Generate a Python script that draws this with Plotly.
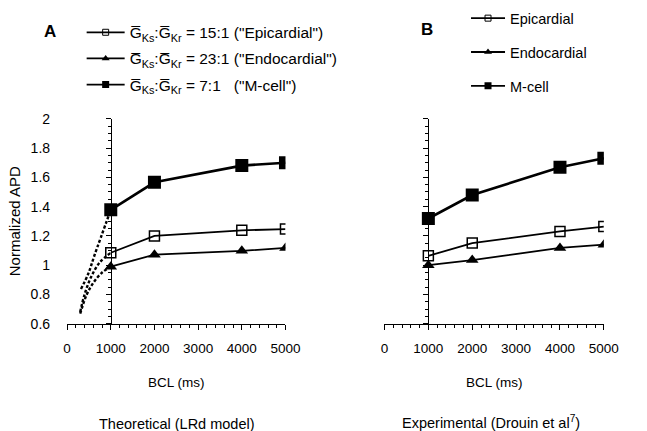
import plotly.graph_objects as go

# ---------------- data ----------------
bcl = [1000, 2000, 4000, 5000]

theo_epi = [1.085, 1.200, 1.238, 1.247]
theo_endo = [0.990, 1.072, 1.098, 1.118]
theo_m = [1.378, 1.566, 1.680, 1.700]

exp_epi = [1.064, 1.151, 1.231, 1.264]
exp_endo = [1.000, 1.035, 1.118, 1.140]
exp_m = [1.319, 1.479, 1.669, 1.730]

# fast-rate (dotted) theoretical curves
fast_bcl_m = [318, 482, 630, 1000]
fast_m = [0.838, 0.940, 1.070, 1.378]
fast_bcl_epi = [300, 400, 550, 750, 1000]
fast_epi = [0.680, 0.800, 0.920, 1.020, 1.085]
fast_bcl_endo = [300, 450, 600, 800, 1000]
fast_endo = [0.670, 0.800, 0.880, 0.950, 0.990]

legend_a = ["G\u0305<sub>Ks</sub>:G\u0305<sub>Kr</sub> = 15:1 (\"Epicardial\")",
            "G\u0305<sub>Ks</sub>:G\u0305<sub>Kr</sub> = 23:1 (\"Endocardial\")",
            "G\u0305<sub>Ks</sub>:G\u0305<sub>Kr</sub> = 7:1\u00a0\u00a0\u00a0(\"M-cell\")"]
legend_b = ["Epicardial", "Endocardial", "M-cell"]

x_ticks = [0, 1000, 2000, 3000, 4000, 5000]
y_ticks = [0.6, 0.8, 1, 1.2, 1.4, 1.6, 1.8, 2]

# ---------------- layout geometry ----------------
W, H = 647, 431
FONT = "Arial, Liberation Sans, sans-serif"
xa_dom = [65 / W, 290 / W]
xb_dom = [392 / W, 618 / W]
y_dom = [1 - 328 / H, 1 - 115 / H]
pos_a = xa_dom[0] + (xa_dom[1] - xa_dom[0]) * 1000 / 5000
pos_b = xb_dom[0] + (xb_dom[1] - xb_dom[0]) * 1000 / 5000

fig = go.Figure()

styles = {
    "epi": dict(symbol="square-open", size=10, color="black", line=dict(width=1.5, color="black")),
    "endo": dict(symbol="triangle-up", size=11, color="black"),
    "m": dict(symbol="square", size=13, color="black"),
}
lw = {"epi": 1.8, "endo": 1.8, "m": 2.6}

# dotted fast-rate curves (panel A) -- drawn on the labelled overlay axis
for xs, ys in [(fast_bcl_m, fast_m), (fast_bcl_epi, fast_epi), (fast_bcl_endo, fast_endo)]:
    fig.add_trace(go.Scatter(x=xs, y=ys, mode="lines", xaxis="x", yaxis="y3",
                             line=dict(color="black", width=2.4, dash="3px,2px", shape="spline"),
                             showlegend=False, hoverinfo="skip"))

# panel A main series
for key, ys in [("epi", theo_epi), ("endo", theo_endo), ("m", theo_m)]:
    fig.add_trace(go.Scatter(x=bcl, y=ys, mode="lines+markers", xaxis="x", yaxis="y",
                             line=dict(color="black", width=lw[key]), marker=styles[key],
                             showlegend=False))
# panel B main series
for key, ys in [("epi", exp_epi), ("endo", exp_endo), ("m", exp_m)]:
    fig.add_trace(go.Scatter(x=bcl, y=ys, mode="lines+markers", xaxis="x2", yaxis="y2",
                             line=dict(color="black", width=lw[key]), marker=styles[key],
                             showlegend=False))

# legend-only entries (small symbols like the original key)
small = {
    "epi": dict(symbol="square-open", size=6, color="black", line=dict(width=1, color="black")),
    "endo": dict(symbol="triangle-up", size=7, color="black"),
    "m": dict(symbol="square", size=7, color="black"),
}
for i, key in enumerate(["epi", "endo", "m"]):
    fig.add_trace(go.Scatter(x=[None], y=[None], mode="lines+markers", xaxis="x", yaxis="y",
                             name=legend_a[i], legend="legend", legendgroup="a" + key,
                             line=dict(color="black", width=1.8), marker=small[key]))
for i, key in enumerate(["epi", "endo", "m"]):
    fig.add_trace(go.Scatter(x=[None], y=[None], mode="lines+markers", xaxis="x2", yaxis="y2",
                             name=legend_b[i], legend="legend2", legendgroup="b" + key,
                             line=dict(color="black", width=1.8), marker=small[key]))

xcommon = dict(range=[0, 5000], tickvals=x_ticks, showgrid=False, zeroline=False,
               showline=True, linecolor="black", linewidth=1.3,
               ticks="outside", ticklen=5, tickwidth=1.2, tickcolor="black",
               minor=dict(dtick=200, tick0=0, ticks="outside", ticklen=3, tickwidth=1, tickcolor="black"),
               tickfont=dict(size=13.5, color="black", family=FONT), ticklabelstandoff=7,
               title=dict(text="BCL (ms)", font=dict(size=13.5, color="black", family=FONT), standoff=22),
               fixedrange=True)
ycommon = dict(range=[0.6, 2.0], tickvals=y_ticks, showgrid=False, zeroline=False,
               showline=True, linecolor="black", linewidth=1.3,
               ticks="outside", ticklen=5, tickwidth=1.2, tickcolor="black",
               minor=dict(dtick=0.05, tick0=0.6, ticks="outside", ticklen=3, tickwidth=1, tickcolor="black"),
               showticklabels=False, fixedrange=True)

fig.update_layout(
    width=W, height=H, margin=dict(l=0, r=0, t=0, b=0),
    paper_bgcolor="white", plot_bgcolor="white",
    font=dict(family=FONT, size=13, color="black"),
    xaxis=dict(domain=xa_dom, anchor="y", **xcommon),
    xaxis2=dict(domain=xb_dom, anchor="y2", **xcommon),
    yaxis=dict(domain=y_dom, anchor="free", position=pos_a, **ycommon),
    yaxis2=dict(domain=y_dom, anchor="free", position=pos_b, **ycommon),
    yaxis3=dict(overlaying="y", anchor="x", side="left", range=[0.6, 2.0], tickvals=y_ticks,
                showgrid=False, zeroline=False, showline=False, ticks="",
                tickfont=dict(size=14, color="black", family=FONT), ticklabelstandoff=16,
                title=dict(text="Normalized APD", font=dict(size=15, color="black", family=FONT), standoff=6),
                fixedrange=True),
    legend=dict(x=80 / W, y=1 - 8 / H, xanchor="left", yanchor="top",
                font=dict(size=15.5, color="black", family=FONT), itemwidth=38,
                tracegroupgap=3, bgcolor="rgba(0,0,0,0)"),
    legend2=dict(x=476 / W, y=1 + 6 / H, xanchor="left", yanchor="top",
                 font=dict(size=14.5, color="black", family=FONT), itemwidth=34,
                 tracegroupgap=12, bgcolor="rgba(0,0,0,0)"),
    annotations=[
        dict(text="<b>A</b>", x=47 / W, y=1 - 24 / H, xref="paper", yref="paper",
             xanchor="center", yanchor="middle", showarrow=False,
             font=dict(size=17, family=FONT, color="black")),
        dict(text="<b>B</b>", x=436 / W, y=1 - 22 / H, xref="paper", yref="paper",
             xanchor="center", yanchor="middle", showarrow=False,
             font=dict(size=17, family=FONT, color="black")),
        dict(text="Theoretical (LRd model)", x=178 / W, y=1 - 432 / H, xref="paper", yref="paper",
             xanchor="center", yanchor="middle", showarrow=False,
             font=dict(size=14.5, family=FONT, color="black")),
        dict(text="Experimental (Drouin et al<sup>7</sup>)", x=502 / W, y=1 - 430 / H,
             xref="paper", yref="paper", xanchor="center", yanchor="middle", showarrow=False,
             font=dict(size=14.5, family=FONT, color="black")),
    ],
)

fig.write_html("out.html")
